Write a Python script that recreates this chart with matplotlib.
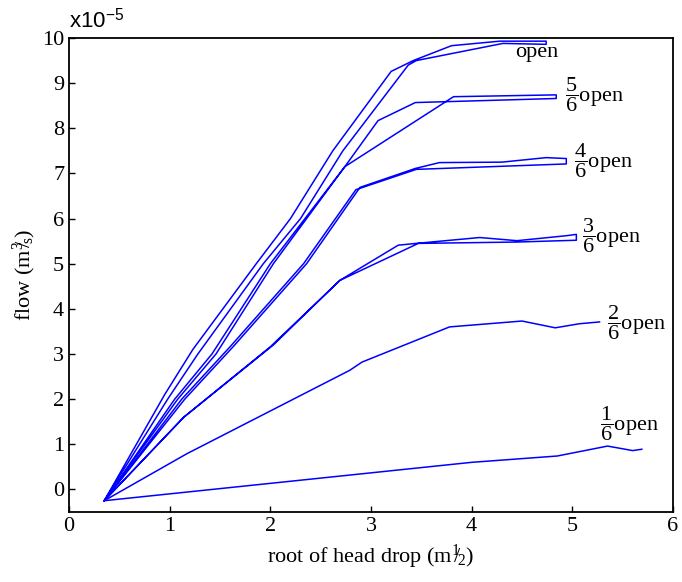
import matplotlib.pyplot as plt

plt.rcParams['font.family'] = 'Liberation Serif'
plt.rcParams['mathtext.fontset'] = 'custom'
plt.rcParams['mathtext.rm'] = 'Liberation Serif'
plt.rcParams['mathtext.it'] = 'Liberation Serif'
plt.rcParams['mathtext.sf'] = 'Liberation Sans'

# flow (x1e-5 m^3/s) vs root of head drop, one loop per valve opening
open_x = [0.35, 0.95, 1.23, 1.86, 2.20, 2.62, 3.20, 3.42, 3.80, 4.28, 4.74, 4.74, 4.31, 3.45, 3.37, 2.72, 2.30, 1.93, 1.28, 0.98, 0.35]
open_y = [-0.25, 2.1, 3.1, 5.0, 6.0, 7.5, 9.26, 9.50, 9.83, 9.93, 9.93, 9.86, 9.88, 9.50, 9.40, 7.5, 6.0, 5.0, 3.0, 2.0, -0.25]

five_x = [0.35, 1.05, 1.42, 2.00, 2.74, 3.07, 3.44, 4.84, 4.84, 3.82, 2.74, 2.03, 1.46, 1.08, 0.35]
five_y = [-0.25, 2.0, 3.0, 5.0, 7.15, 8.17, 8.57, 8.66, 8.74, 8.70, 7.15, 5.0, 3.0, 2.0, -0.25]

four_x = [0.35, 1.15, 1.63, 2.36, 2.89, 3.44, 3.68, 4.30, 4.74, 4.94, 4.94, 3.45, 2.85, 2.33, 1.60, 1.12, 0.35]
four_y = [-0.25, 2.0, 3.16, 5.0, 6.69, 7.11, 7.24, 7.25, 7.35, 7.33, 7.21, 7.09, 6.64, 5.0, 3.16, 2.0, -0.25]

three_x = [0.35, 1.14, 2.00, 2.69, 3.27, 3.45, 4.08, 4.45, 4.94, 5.04, 5.04, 4.45, 3.47, 2.69, 2.03, 1.14, 0.35]
three_y = [-0.25, 1.6, 3.16, 4.63, 5.41, 5.45, 5.58, 5.51, 5.62, 5.65, 5.52, 5.48, 5.45, 4.63, 3.2, 1.6, -0.25]

two_x = [0.35, 1.17, 2.79, 2.91, 3.78, 4.50, 4.83, 5.07, 5.27]
two_y = [-0.25, 0.79, 2.64, 2.82, 3.60, 3.73, 3.58, 3.67, 3.71]

one_x = [0.35, 4.00, 4.85, 5.35, 5.60, 5.69]
one_y = [-0.25, 0.60, 0.74, 0.96, 0.86, 0.89]

series = [(open_x, open_y), (five_x, five_y), (four_x, four_y),
          (three_x, three_y), (two_x, two_y), (one_x, one_y)]

labels = ['open', r'$\dfrac{5}{6}$open', r'$\dfrac{4}{6}$open',
          r'$\dfrac{3}{6}$open', r'$\dfrac{2}{6}$open', r'$\dfrac{1}{6}$open']
label_x = [4.43, 4.93, 5.02, 5.10, 5.34, 5.27]
label_y = [9.68, 8.74, 7.29, 5.63, 3.70, 1.46]

fig = plt.figure(figsize=(6.82, 5.82), dpi=100)
ax = fig.add_axes([0.1012, 0.1203, 0.8856, 0.8144])

for xs, ys in series:
    ax.plot(xs, ys, color='#0000ff', lw=1.1)

for txt, lx, ly in zip(labels, label_x, label_y):
    ax.text(lx, ly, txt, fontsize=16, va='center', ha='left')

ax.set_xlim(0, 6)
ax.set_ylim(-0.5, 10)
ax.set_xticks(range(0, 7))
ax.set_yticks(range(0, 11))
ax.tick_params(direction='in', length=4, width=1, labelsize=16, top=False, right=False)
for sp in ax.spines.values():
    sp.set_linewidth(1.3)

ax.set_xlabel(r'root of head drop (m$^{1}\!\!/\!_{2}$)', fontsize=16, labelpad=5)
ax.set_ylabel(r'flow (m$^{3}\!\!/\!_{\mathrm{s}}$)', fontsize=16, labelpad=3)

ax.text(0.0, 1.012, r'x10$^{\mathsf{-5}}$', transform=ax.transAxes,
        fontsize=16, family='Liberation Sans', ha='left', va='bottom')

fig.savefig('out.png', dpi=100)
